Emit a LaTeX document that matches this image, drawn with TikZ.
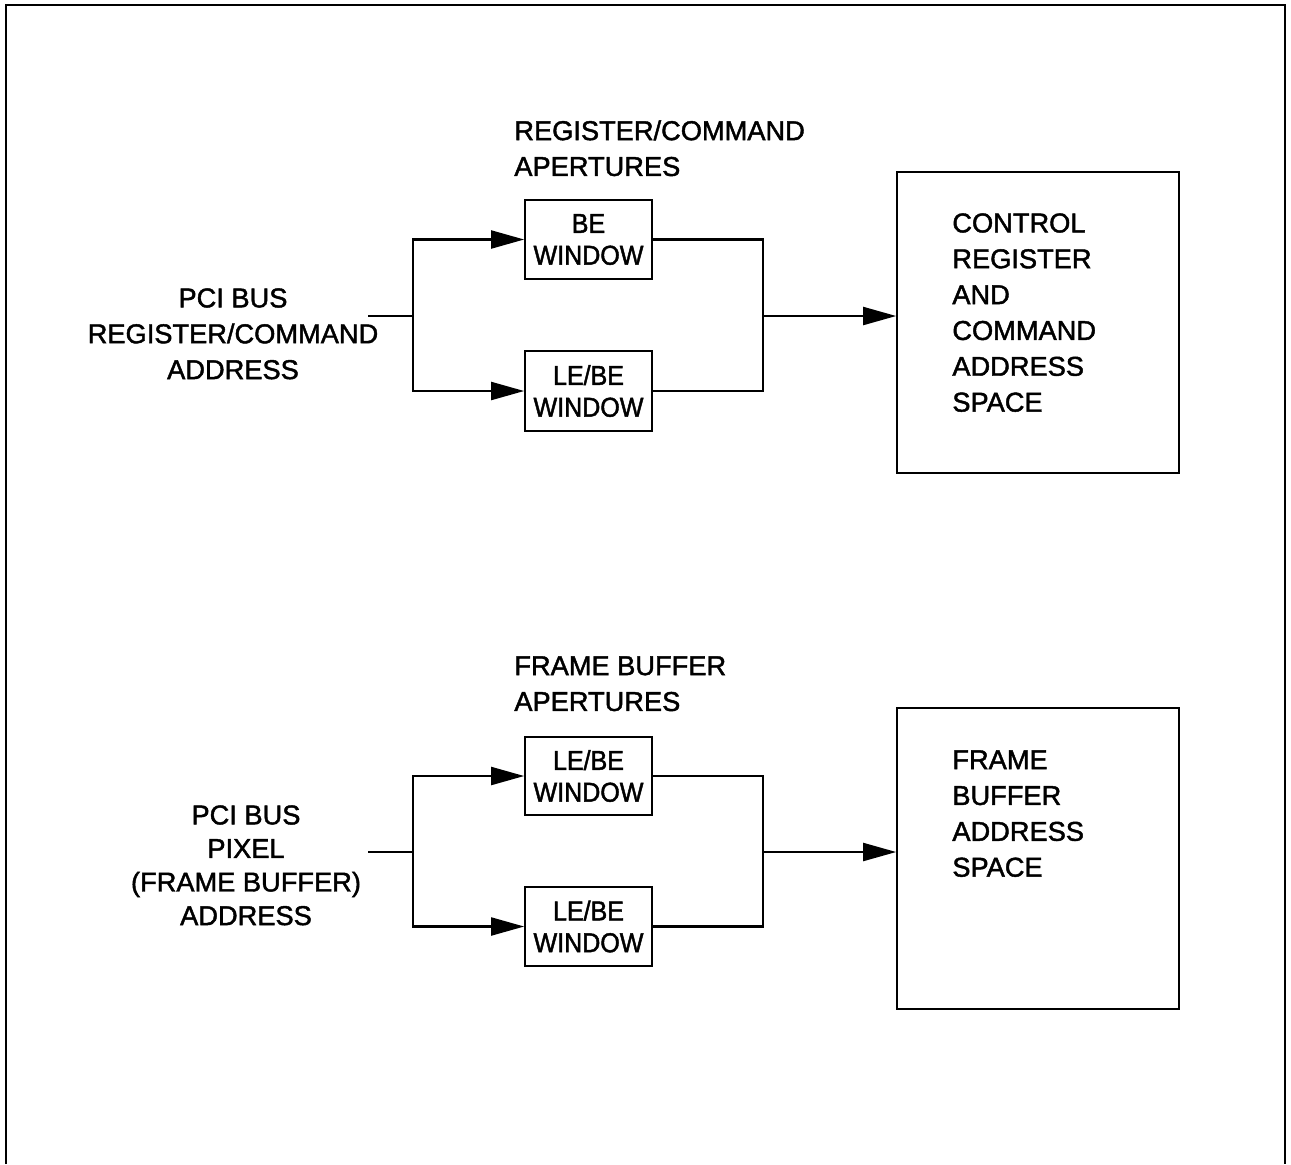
\documentclass[tikz,border=0pt]{standalone}
\usepackage{fontspec}
\setmainfont{Liberation Sans}[BoldFont=Liberation Sans, BoldFeatures={FakeBold=1.6}]
\newfontfamily\narrowfont{Liberation Sans}[FakeStretch=0.92, BoldFont=Liberation Sans, BoldFeatures={FakeBold=1.6}]
\usetikzlibrary{arrows.meta}
\begin{document}
\begin{tikzpicture}[x=0.02cm, y=-0.02cm, font=\fontsize{15.5}{20.4}\selectfont\bfseries]
  % styles
  \tikzstyle{window}=[draw, line width=1pt, minimum width=2.54cm, minimum height=1.58cm, inner sep=0pt, align=center, font=\narrowfont\fontsize{15.5}{18.1}\selectfont\bfseries]
  \tikzstyle{space}=[draw, line width=1pt, minimum width=5.64cm, minimum height=6.02cm]
  \tikzstyle{heading}=[inner sep=0pt, align=left, anchor=north west]
  \tikzstyle{source}=[inner sep=0pt, align=center, anchor=north]
  \tikzstyle{bus}=[line width=1.2pt]
  \tikzstyle{feed}=[bus, -{Triangle[length=0.66cm, width=0.36cm]}]

  \useasboundingbox (0,0) rectangle (1291,1164);
  % outer frame (open at the bottom)
  \draw[line width=1.6pt] (6,1164) |- (1285,5) -- (1285,1164);

  % register / command path
  \node[heading] (regap) at (514,120) {REGISTER/COMMAND\\APERTURES};
  \node[window] (bewin) at (588.5,239.5) {BE\\WINDOW};
  \node[window, minimum height=1.6cm] (lebewin) at (588.5,391) {LE/BE\\WINDOW};
  \node[space] (ctrlspace) at (1038,322.5) {};
  \node[heading] (ctrltext) at (952,213) {CONTROL\\REGISTER\\AND\\COMMAND\\ADDRESS\\SPACE};
  \node[source] (pcireg) at (233,288) {PCI BUS\\REGISTER/COMMAND\\ADDRESS};

  \coordinate (regin) at (368,316);
  \coordinate (regsplit) at (413,316);
  \coordinate (regmerge) at (763,316);
  \draw[bus] (regin) -- (regsplit);
  \draw[feed] (regsplit) |- (bewin.west);
  \draw[feed] (regsplit) |- (lebewin.west);
  \draw[bus] (bewin.east) -| (regmerge) |- (lebewin.east);
  \draw[feed] (regmerge) -- (ctrlspace.west |- regmerge);

  % frame buffer path
  \node[heading] (fbap) at (514,656) {FRAME BUFFER\\APERTURES};
  \node[window, minimum height=1.56cm] (fbwinA) at (588.5,776) {LE/BE\\WINDOW};
  \node[window] (fbwinB) at (588.5,926.5) {LE/BE\\WINDOW};
  \node[space] (fbspace) at (1038,858.5) {};
  \node[heading] (fbtext) at (952,750) {FRAME\\BUFFER\\ADDRESS\\SPACE};
  \node[source, font=\fontsize{15.5}{19.1}\selectfont\bfseries] (pcipix) at (246,805) {PCI BUS\\PIXEL\\(FRAME BUFFER)\\ADDRESS};

  \coordinate (pixin) at (368,852);
  \coordinate (pixsplit) at (413,852);
  \coordinate (pixmerge) at (763,852);
  \draw[bus] (pixin) -- (pixsplit);
  \draw[feed] (pixsplit) |- (fbwinA.west);
  \draw[feed] (pixsplit) |- (fbwinB.west);
  \draw[bus] (fbwinA.east) -| (pixmerge) |- (fbwinB.east);
  \draw[feed] (pixmerge) -- (fbspace.west |- pixmerge);
\end{tikzpicture}
\end{document}
